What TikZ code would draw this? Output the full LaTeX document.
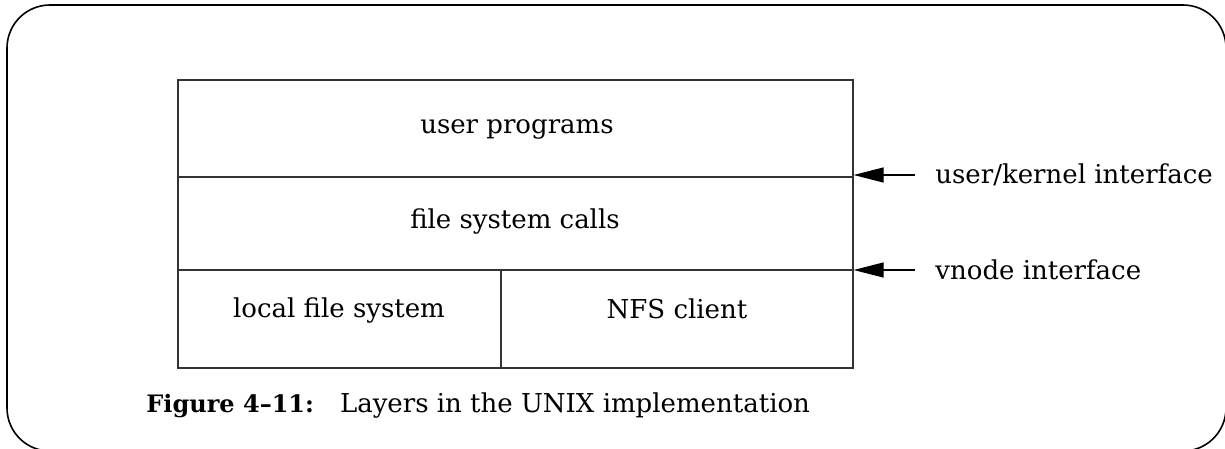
\documentclass[tikz,border=0pt]{standalone}
\usepackage{fontspec}
\setmainfont{DejaVu Serif}
\usetikzlibrary{arrows.meta,calc}
\begin{document}
\begin{tikzpicture}[x=0.5pt,y=-0.5pt,
  layer/.style={draw=black!80,line width=0.6pt,rectangle,inner sep=0pt},
  lbl/.style={inner sep=0pt,font=\fontsize{13}{15}\selectfont},
  arr/.style={line width=0.6pt,-{Triangle[length=15pt,width=7.5pt]}}]
\useasboundingbox (0,0) rectangle (1225,449);
\draw[line width=0.8pt,rounded corners=21.5pt] (7,5) rectangle (1226,451);
\node[layer,minimum width=337.5pt,minimum height=48.5pt] (up) at (515.5,128.5) {};
\node[layer,minimum width=337.5pt,minimum height=46.5pt] (fs) at (515.5,223.5) {};
\node[layer,minimum width=161.5pt,minimum height=49pt] (lfs) at (339.5,319) {};
\node[layer,minimum width=176pt,minimum height=49pt] (nfs) at (677,319) {};
\node[lbl] (tup) at (517,129) {user programs};
\node[lbl] (tfs) at (515,222) {file system calls};
\node[lbl] (tlfs) at (339,311) {local file system};
\node[lbl] (tnfs) at (677,309) {NFS client};
\node[lbl,anchor=west] (uk) at (935,175) {user/kernel interface};
\node[lbl,anchor=west] (vn) at (935,270) {vnode interface};
\coordinate (ukt) at (915,175);
\coordinate (vnt) at (915,270);
\draw[arr] (ukt) -- (ukt -| up.east);
\draw[arr] (vnt) -- (vnt -| fs.east);
\node[lbl,anchor=west] (cap) at (146,406) {{\fontsize{12}{14}\selectfont\bfseries Figure 4–11:}\hspace{13pt}Layers in the UNIX implementation};
\end{tikzpicture}
\end{document}
